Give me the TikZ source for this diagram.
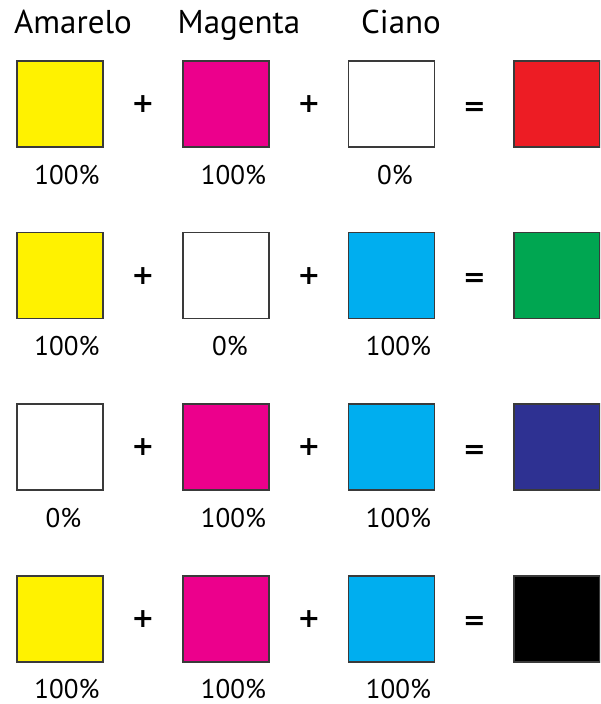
\documentclass[tikz,border=0pt]{standalone}
\usepackage{fontspec}
\setmainfont{PT Sans}
\newfontfamily\opfont{DejaVu Sans}
\definecolor{cyel}{HTML}{FFF200}
\definecolor{cmag}{HTML}{EC008C}
\definecolor{ccya}{HTML}{00AEEF}
\definecolor{cred}{HTML}{ED1C24}
\definecolor{cgrn}{HTML}{00A651}
\definecolor{cblu}{HTML}{2E3192}
\definecolor{sqline}{HTML}{3A3A3A}
\begin{document}
\begin{tikzpicture}[x=1pt,y=-1pt,
  sq/.style={draw=sqline, line width=1.4pt, minimum size=86pt, inner sep=0pt},
  head/.style={font=\fontsize{33}{36}\selectfont, anchor=base, inner sep=0pt},
  pct/.style={font=\fontsize{27}{30}\selectfont, anchor=base, inner sep=0pt},
  op/.style={font=\opfont\bfseries\fontsize{27}{30}\selectfont, inner sep=0pt},
  eq/.style={op, yshift=-4.5pt}]
\useasboundingbox (0,0) rectangle (600,704);
\clip (0,0) rectangle (600,704);
% headers
\node[head] (hA) at (73,33) {Amarelo};
\node[head] (hM) at (239,33) {Magenta};
\node[head] (hC) at (401,33) {Ciano};
% row 1
\node[sq, fill=cyel] (a1) at (60,104) {};
\node[op] (p1a) at (143,104) {+};
\node[sq, fill=cmag] (b1) at (226,104) {};
\node[op] (p1b) at (309,104) {+};
\node[sq, fill=white] (c1) at (391.7,104) {};
\node[eq] (e1) at (474.5,104) {=};
\node[sq, fill=cred] (d1) at (557,104) {};
\node[pct] (la1) at (67,184) {100\%};
\node[pct] (lb1) at (233.5,184) {100\%};
\node[pct] (lc1) at (395,184) {0\%};
% row 2
\node[sq, fill=cyel] (a2) at (60,275.7) {};
\node[op] (p2a) at (143,275.7) {+};
\node[sq, fill=white] (b2) at (226,275.7) {};
\node[op] (p2b) at (309,275.7) {+};
\node[sq, fill=ccya] (c2) at (391.7,275.7) {};
\node[eq] (e2) at (474.5,275.7) {=};
\node[sq, fill=cgrn] (d2) at (557,275.7) {};
\node[pct] (la2) at (67,355.5) {100\%};
\node[pct] (lb2) at (230,355.5) {0\%};
\node[pct] (lc2) at (398.5,355.5) {100\%};
% row 3
\node[sq, fill=white] (a3) at (60,447) {};
\node[op] (p3a) at (143,447) {+};
\node[sq, fill=cmag] (b3) at (226,447) {};
\node[op] (p3b) at (309,447) {+};
\node[sq, fill=ccya] (c3) at (391.7,447) {};
\node[eq] (e3) at (474.5,447) {=};
\node[sq, fill=cblu] (d3) at (557,447) {};
\node[pct] (la3) at (63.5,527) {0\%};
\node[pct] (lb3) at (233.5,527) {100\%};
\node[pct] (lc3) at (398.5,527) {100\%};
% row 4
\node[sq, fill=cyel] (a4) at (60,618.8) {};
\node[op] (p4a) at (143,618.8) {+};
\node[sq, fill=cmag] (b4) at (226,618.8) {};
\node[op] (p4b) at (309,618.8) {+};
\node[sq, fill=ccya] (c4) at (391.7,618.8) {};
\node[eq] (e4) at (474.5,618.8) {=};
\node[sq, fill=black] (d4) at (557,618.8) {};
\node[pct] (la4) at (67,698) {100\%};
\node[pct] (lb4) at (233.5,698) {100\%};
\node[pct] (lc4) at (398.5,698) {100\%};
\end{tikzpicture}
\end{document}
